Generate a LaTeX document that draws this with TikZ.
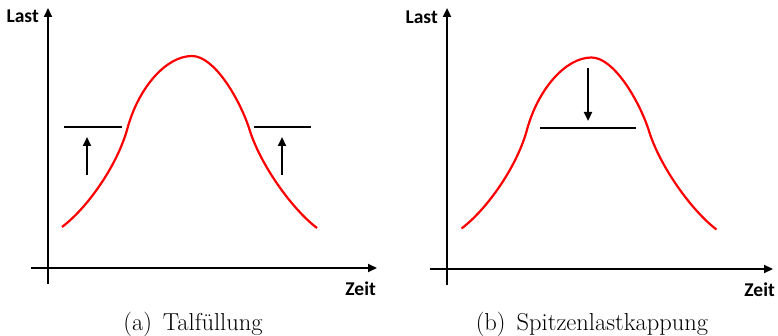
\documentclass[tikz,border=0pt]{standalone}
\usepackage{fontspec}
\newfontfamily\axfont{Carlito}
\usetikzlibrary{arrows.meta}
\tikzset{
  axisline/.style={line width=2.2pt, -{Triangle[length=9pt,width=8pt]}},
  loadcurve/.style={red, line width=2.2pt, line join=round},
  levelline/.style={line width=2.2pt},
  movearrow/.style={line width=2.2pt, -{Triangle[length=9pt,width=8pt]}},
  axlabel/.style={font=\axfont\bfseries\fontsize{19.5}{22}\selectfont, inner sep=0pt},
  subcap/.style={font=\fontsize{24.5}{28}\selectfont, inner sep=0pt, anchor=base},
  pics/loadprofile/.style={code={
    \draw[loadcurve] (62,227) .. controls (86,209) and (116,168) .. (127,130)
      .. controls (138,88) and (166,56) .. (192,56)
      .. controls (214,56) and (239,98) .. (249,128)
      .. controls (260,165) and (293,210) .. (317,228);
  }}
}
\begin{document}
\begin{tikzpicture}[x=1pt,y=-1pt]
\useasboundingbox (0,0) rectangle (778,336);
% ---------- panel (a)
\coordinate (ay0) at (48,284); \coordinate (ay1) at (48,8);
\coordinate (ax0) at (31,268); \coordinate (ax1) at (377,268);
\draw[axisline] (ay0) -- (ay1);
\draw[axisline] (ax0) -- (ax1);
\node[axlabel, anchor=east] (alast) at (39,16) {Last};
\node[axlabel, anchor=east] (azeit) at (376,289) {Zeit};
\pic at (0,0) {loadprofile};
\coordinate (al0) at (64,127); \coordinate (al1) at (122,127);
\coordinate (ar0) at (254,127); \coordinate (ar1) at (311,127);
\draw[levelline] (al0) -- (al1);
\draw[levelline] (ar0) -- (ar1);
\coordinate (aa0) at (87,175); \coordinate (aa1) at (87,137);
\coordinate (ab0) at (282,175); \coordinate (ab1) at (282,137);
\draw[movearrow] (aa0) -- (aa1);
\draw[movearrow] (ab0) -- (ab1);
\node[subcap] (capa) at (193,330) {(a)\hspace{0.45em}Talfüllung};
% ---------- panel (b)
\coordinate (by0) at (447,285); \coordinate (by1) at (447,8);
\coordinate (bx0) at (430,269); \coordinate (bx1) at (773,269);
\draw[axisline] (by0) -- (by1);
\draw[axisline] (bx0) -- (bx1);
\node[axlabel, anchor=east] (blast) at (438,17) {Last};
\node[axlabel, anchor=east] (bzeit) at (775,290) {Zeit};
\pic at (399.5,1.5) {loadprofile};
\coordinate (bl0) at (540,128); \coordinate (bl1) at (636,128);
\draw[levelline] (bl0) -- (bl1);
\coordinate (ba0) at (588,68); \coordinate (ba1) at (588,121);
\draw[movearrow] (ba0) -- (ba1);
\node[subcap] (capb) at (592,330) {(b)\hspace{0.45em}Spitzenlastkappung};
\end{tikzpicture}
\end{document}
